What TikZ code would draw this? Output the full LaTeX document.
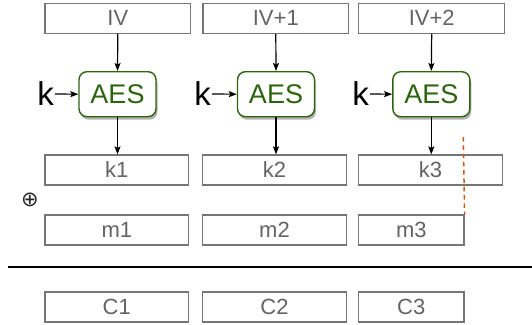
\documentclass[tikz,border=0pt]{standalone}
\usepackage{fontspec}
\setmainfont{Liberation Sans}
\newfontfamily\symfont{DejaVu Sans}
\usetikzlibrary{arrows.meta,shadows}
\definecolor{boxgray}{RGB}{118,118,118}
\definecolor{txtgray}{RGB}{100,100,100}
\definecolor{aesgreen}{RGB}{45,100,15}
\definecolor{dashorange}{RGB}{200,90,20}
\begin{document}
\begin{tikzpicture}[x=1pt,y=-1pt,
  gbox/.style={draw=boxgray,line width=1.2pt,fill=white,inner sep=0pt,minimum height=30pt,
    text=txtgray,font=\fontsize{22}{24}\selectfont},
  aesbox/.style={draw=aesgreen,line width=1.4pt,fill=white,rounded corners=8pt,inner sep=0pt,
    minimum width=77pt,minimum height=45pt,text=aesgreen,font=\fontsize{27}{30}\selectfont,
    drop shadow={shadow xshift=1.5pt,shadow yshift=-3pt,fill=black,opacity=0.3}},
  klabel/.style={inner sep=1pt,font=\fontsize{33}{36}\selectfont,anchor=east},
  arr/.style={line width=1.2pt,-{Stealth[length=8pt,width=6pt,inset=1.5pt]}}]
\useasboundingbox (0,0) rectangle (532,324);
% top row
\node[gbox,minimum width=145.7pt] (iv1) at (117.8,18.3) {IV};
\node[gbox,minimum width=145.7pt] (iv2) at (275.8,18.3) {IV+1};
\node[gbox,minimum width=146pt] (iv3) at (431.7,18.3) {IV+2};
% AES
\node[aesbox] (aes1) at (117.5,94.2) {AES};
\node[aesbox] (aes2) at (276,94.2) {AES};
\node[aesbox] (aes3) at (431.3,94.2) {AES};
% k labels
\node[klabel] (k1) at (55,94) {k};
\node[klabel] (k2) at (212,94) {k};
\node[klabel] (k3) at (370,94) {k};
% key stream row
\node[gbox,minimum width=143.7pt] (ks1) at (116.8,170) {k1};
\node[gbox,minimum width=143.6pt] (ks2) at (274.5,170) {k2};
\node[gbox,minimum width=143.6pt] (ks3) at (430.5,170) {k3};
% message row
\node[gbox,minimum width=143.7pt] (m1) at (116.8,230) {m1};
\node[gbox,minimum width=143.6pt] (m2) at (274.5,230) {m2};
\node[gbox,minimum width=105.3pt] (m3) at (411.3,230) {m3};
% cipher row
\node[gbox,minimum width=143.7pt] (c1) at (116.8,307) {C1};
\node[gbox,minimum width=143.6pt] (c2) at (274.5,307) {C2};
\node[gbox,minimum width=105.3pt] (c3) at (411.3,307) {C3};
% xor
\node[inner sep=0pt,text=black!85,font=\symfont\fontsize{21}{23}\selectfont] (xor) at (30,200) {⊕};
% arrows
\draw[arr] (iv1.south) -- (aes1.north);
\draw[arr] (iv2.south) -- (aes2.north);
\draw[arr] (iv3.south) -- (aes3.north);
\draw[arr] (aes1.south) -- (ks1.north -| aes1.south);
\draw[arr] (aes2.south) -- (ks2.north -| aes2.south);
\draw[arr] (aes3.south) -- (ks3.north -| aes3.south);
\draw[arr] (k1.east) -- (aes1.west);
\draw[arr] (k2.east) -- (aes2.west);
\draw[arr] (k3.east) -- (aes3.west);
% divider
\coordinate (l1) at (8.3,266.7);
\coordinate (l2) at (532,266.7);
\draw[line width=2pt] (l1) -- (l2);
% dashed cut
\coordinate (d1) at (463.3,137);
\draw[dashorange,line width=1.5pt,dash pattern=on 4.5pt off 3.8pt] (d1) -- (m3.north east);
\end{tikzpicture}
\end{document}
